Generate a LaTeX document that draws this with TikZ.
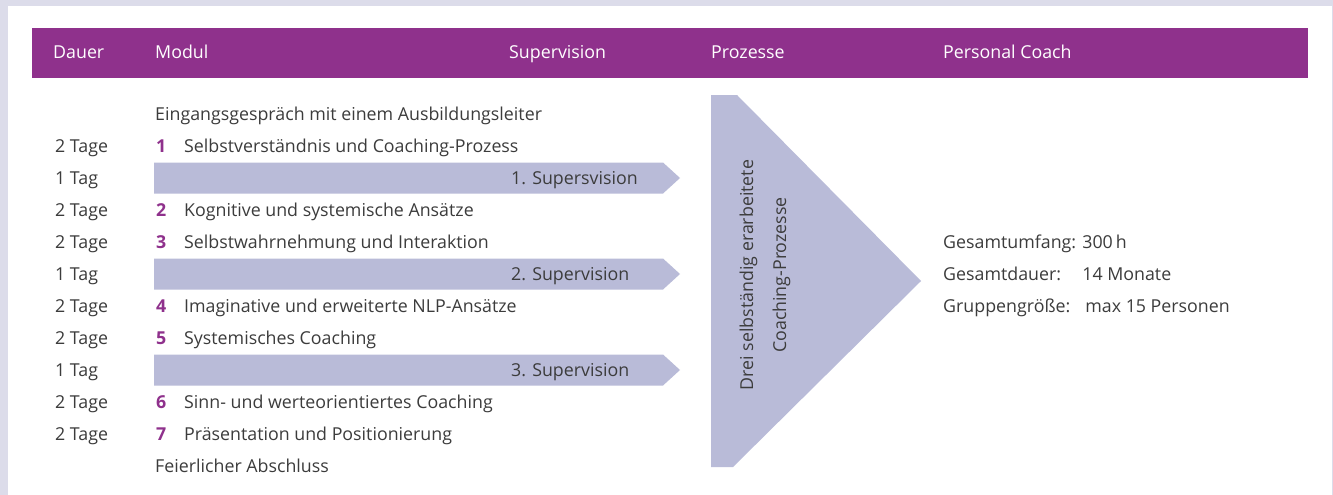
\documentclass[tikz,border=0pt]{standalone}
\usepackage{fontspec}
\usepackage{calc}
\setmainfont{Open Sans}
\definecolor{hdr}{HTML}{8F318C}
\definecolor{bar}{HTML}{B9BBD8}
\definecolor{outer}{HTML}{DCDCEA}
\definecolor{txt}{HTML}{3C3C3C}
\tikzset{
  lbl/.style={anchor=base west, inner sep=0pt, text=txt, font=\fontsize{17.8}{20}\selectfont},
  hlbl/.style={anchor=base west, inner sep=0pt, text=white, font=\fontsize{17.8}{20}\selectfont},
  num/.style={anchor=base west, inner sep=0pt, text=hdr, font=\fontsize{17.8}{20}\selectfont\bfseries},
}
\begin{document}
\begin{tikzpicture}[x=1pt,y=-1pt]
\useasboundingbox (0,0) rectangle (1333,495);
\fill[outer] (0,0) rectangle (1333,495);
\fill[white] (8,6) rectangle (1332,495);
\fill[hdr] (32,28) rectangle (1308,78);
% header
\node[hlbl] (hd) at (53,59) {Dauer};
\node[hlbl] (hm) at (155,59) {Modul};
\node[hlbl] (hs) at (509,59) {Supervision};
\node[hlbl] (hp) at (711,59) {Prozesse};
\node[hlbl] (hc) at (943,59) {Personal Coach};
% bars
\foreach \k/\t/\n in {2/{1. Supersvision}/s1, 5/{2. Supervision}/s2, 8/{3. Supervision}/s3}{
  \pgfmathsetmacro{\c}{114+32*\k}
  \fill[bar] (154,\c-15.5) -- (663,\c-15.5) -- (680,\c) -- (663,\c+15.5) -- (154,\c+15.5) -- cycle;
  \node[lbl] (\n) at (511,\c+6) {\t};
}
% rows
\node[lbl] (r0) at (155,120) {Eingangsgespräch mit einem Ausbildungsleiter};
\foreach \k/\d/\m/\t in {1/2 Tage/1/{Selbstverständnis und Coaching-Prozess},
  3/2 Tage/2/{Kognitive und systemische Ansätze},
  4/2 Tage/3/{Selbstwahrnehmung und Interaktion},
  6/2 Tage/4/{Imaginative und erweiterte NLP-Ansätze},
  7/2 Tage/5/{Systemisches Coaching},
  9/2 Tage/6/{Sinn- und werteorientiertes Coaching},
  10/2 Tage/7/{Präsentation und Positionierung}}{
  \pgfmathsetmacro{\b}{120+32*\k}
  \node[lbl] (d\m) at (55,\b) {\d};
  \node[num] (n\m) at (156,\b) {\m};
  \node[lbl] (t\m) at (184,\b) {\t};
}
\foreach \k/\n in {2/s1,5/s2,8/s3}{
  \pgfmathsetmacro{\b}{120+32*\k}
  \node[lbl] (d\n) at (55,\b) {1 Tag};
}
\node[lbl] (r11) at (155,{120+32*11}) {Feierlicher Abschluss};
% big chevron
\fill[bar] (711,95) -- (737,95) -- (921,281) -- (733,467) -- (711,467) -- cycle;
\node[rotate=90, align=center, text=txt, font=\fontsize{17.8}{33}\selectfont, inner sep=0pt] (proc) at (765,275)
  {Drei selbständig erarbeitete\\Coaching-Prozesse};
% right texts
\node[lbl] (g1) at (943,{120+32*4}) {Gesamtumfang: 300\,h};
\node[lbl] (g2) at (943,{120+32*5}) {\makebox[\widthof{Gesamtumfang: }][l]{Gesamtdauer:}14 Monate};
\node[lbl] (g3) at (943,{120+32*6}) {\makebox[\widthof{Gesamtumfang: }][l]{Gruppengröße:}\,max 15 Personen};
\end{tikzpicture}
\end{document}
